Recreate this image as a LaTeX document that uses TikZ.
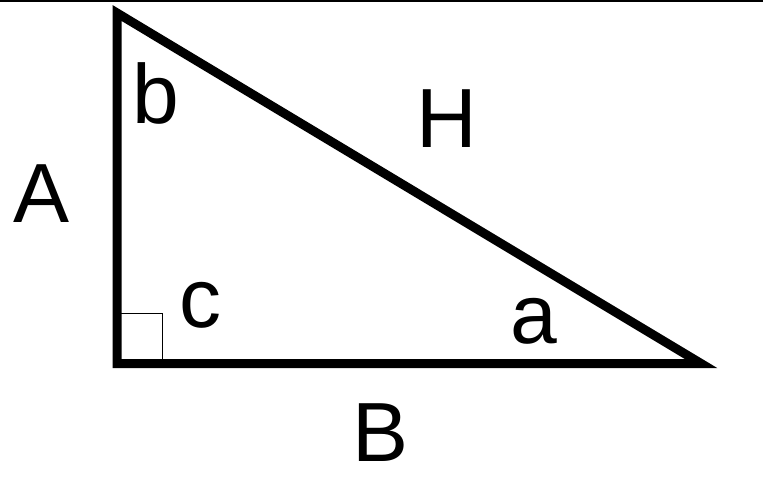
\documentclass[tikz,border=0pt]{standalone}
\usepackage{fontspec}
\setmainfont{Liberation Sans}
\begin{document}
\begin{tikzpicture}[x=1pt,y=-1pt,
  lbl/.style={inner sep=0pt, anchor=base, font=\fontsize{84}{84}\selectfont},
  side/.style={line width=9pt, line join=miter, miter limit=20},
  rightmark/.style={line width=1.3pt}]
\useasboundingbox (0,0) rectangle (763,489);
\fill[black] (0,0) rectangle (763,1.7);
\coordinate (T) at (117,13);
\coordinate (L) at (117,363.5);
\coordinate (R) at (701,363.5);
\coordinate (Q) at (162.5,313.3);
\draw[rightmark] (L) rectangle (Q);
\draw[side] (T) -- (L) -- (R) -- cycle;
\node[lbl] (A) at (42,222.7) {A};
\node[lbl] (b) at (156,123.3) {b};
\node[lbl] (H) at (447,147.3) {H};
\node[lbl] (c) at (200.5,327) {c};
\node[lbl] (a) at (534,343) {a};
\node[lbl] (B) at (381,461.7) {B};
\end{tikzpicture}
\end{document}
